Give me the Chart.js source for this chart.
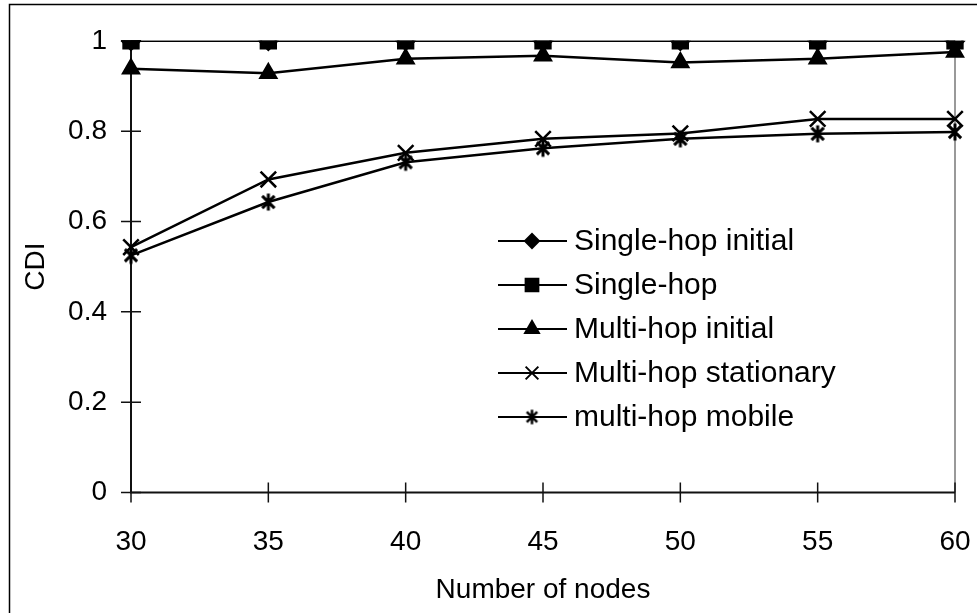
<!DOCTYPE html>
<html>
<head>
<meta charset="utf-8">
<script src="https://cdn.jsdelivr.net/npm/chart.js@4/dist/chart.umd.min.js"></script>
<style>
  html, body { margin: 0; padding: 0; background: #fff; overflow: hidden; }
  #wrap { width: 977px; height: 613px; }
</style>
</head>
<body>
<div id="wrap"><canvas id="cdi-chart"></canvas></div>
<script>
    // values
    var nodes = [30, 35, 40, 45, 50, 55, 60];
    var singleHopInitial = [1, 1, 1, 1, 1, 1, 1];
    var singleHop = [1, 1, 1, 1, 1, 1, 1];
    var multiHopInitial = [0.938, 0.928, 0.96, 0.967, 0.952, 0.96, 0.975];
    var multiHopStationary = [0.543, 0.693, 0.752, 0.783, 0.795, 0.827, 0.827];
    var multiHopMobile = [0.525, 0.643, 0.731, 0.762, 0.783, 0.794, 0.798];
    var seriesNames = ['Single-hop initial', 'Single-hop', 'Multi-hop initial', 'Multi-hop stationary', 'multi-hop mobile'];
    var yTicks = [0, 0.2, 0.4, 0.6, 0.8, 1];

    var FONT = "'Liberation Sans', Arial, sans-serif";

    // excel style star marker: X with a vertical bar
    function makeStar(size, lw) {
        var c = document.createElement('canvas');
        c.width = size; c.height = size;
        var g = c.getContext('2d');
        var h = size / 2, r = size / 2 - lw / 2;
        var d = r * 0.72;
        g.strokeStyle = '#000';
        g.lineWidth = lw;
        g.beginPath();
        g.moveTo(h - d, h - d); g.lineTo(h + d, h + d);
        g.moveTo(h + d, h - d); g.lineTo(h - d, h + d);
        g.moveTo(h, h - r); g.lineTo(h, h + r);
        g.stroke();
        return c;
    }
    var starBig = makeStar(20, 3);
    var starSmall = makeStar(17, 2.5);

    function series(label, values, style, radius, legendStyle, legendRadius) {
        return {
            label: label,
            data: values,
            borderColor: '#000',
            backgroundColor: '#000',
            borderWidth: 2.5,
            pointStyle: style,
            pointRadius: radius,
            pointHoverRadius: radius,
            pointBorderWidth: 2.5,
            pointBackgroundColor: '#000',
            pointBorderColor: '#000',
            tension: 0,
            legendStyle: legendStyle,
            legendRadius: legendRadius
        };
    }

    var frameAndTicks = {
        id: 'frameAndTicks',
        beforeDraw: function(chart) {
            var ctx = chart.ctx;
            ctx.save();
            ctx.fillStyle = '#fff';
            ctx.fillRect(0, 0, chart.width, chart.height);
            ctx.strokeStyle = '#000';
            ctx.lineWidth = 1.5;
            ctx.strokeRect(9.5, 4.5, 2000, 2000);
            ctx.restore();
        },
        beforeDatasetsDraw: function(chart) {
            var ctx = chart.ctx;
            var area = chart.chartArea;
            var xs = chart.scales.x, ys = chart.scales.y;
            ctx.save();
            // grey right edge of the plot area
            ctx.strokeStyle = '#999';
            ctx.lineWidth = 2;
            ctx.beginPath();
            ctx.moveTo(area.right, area.top);
            ctx.lineTo(area.right, area.bottom);
            ctx.stroke();
            // axis lines
            ctx.strokeStyle = '#111';
            ctx.lineWidth = 2;
            ctx.beginPath();
            ctx.moveTo(area.left, area.top);
            ctx.lineTo(area.left, area.bottom);
            ctx.lineTo(area.right, area.bottom);
            ctx.stroke();
            // cross ticks
            ctx.lineWidth = 1.5;
            ctx.beginPath();
            for (var i = 0; i < ys.ticks.length; i++) {
                var py = ys.getPixelForTick(i);
                ctx.moveTo(area.left - 10, py);
                ctx.lineTo(area.left + 10, py);
            }
            for (var j = 0; j < xs.ticks.length; j++) {
                var px = xs.getPixelForTick(j);
                ctx.moveTo(px, area.bottom - 10);
                ctx.lineTo(px, area.bottom + 10);
            }
            ctx.stroke();
            ctx.restore();
        }
    };

    var boxLegend = {
        id: 'boxLegend',
        afterDatasetsDraw: function(chart) {
            var ctx = chart.ctx;
            var opts = chart.options.plugins.boxLegend;
            ctx.save();
            chart.data.datasets.forEach(function(ds, i) {
                var y = opts.top + i * opts.rowGap;
                ctx.strokeStyle = '#000';
                ctx.fillStyle = '#000';
                ctx.lineWidth = 2;
                ctx.beginPath();
                ctx.moveTo(opts.lineFrom, y);
                ctx.lineTo(opts.lineTo, y);
                ctx.stroke();
                Chart.helpers.drawPoint(ctx, {
                    pointStyle: ds.legendStyle,
                    radius: ds.legendRadius,
                    rotation: 0,
                    borderWidth: 2
                }, opts.marker, y);
                ctx.fillStyle = '#000';
                ctx.font = opts.font;
                ctx.textAlign = 'left';
                ctx.textBaseline = 'middle';
                ctx.fillText(ds.label, opts.textX, y + 1);
            });
            ctx.restore();
        }
    };

    var ctx = document.getElementById('cdi-chart').getContext('2d');
    var cdiChart = new Chart(ctx, {
        type: 'line',
        data: {
            labels: nodes,
            datasets: [
                series(seriesNames[0], singleHopInitial, 'rectRot', 9, 'rectRot', 7),
                series(seriesNames[1], singleHop, 'rect', 10.5, 'rect', 9),
                series(seriesNames[2], multiHopInitial, 'triangle', 9, 'triangle', 8),
                series(seriesNames[3], multiHopStationary, 'crossRot', 11, 'crossRot', 9),
                series(seriesNames[4], multiHopMobile, starBig, 10, starSmall, 8)
            ]
        },
        plugins: [frameAndTicks, boxLegend],
        options: {
            responsive: true,
            maintainAspectRatio: false,
            animation: false,
            events: [],
            layout: {
                padding: { top: 40, right: 22, left: 0, bottom: 0 }
            },
            plugins: {
                legend: { display: false },
                tooltip: { enabled: false },
                boxLegend: {
                    top: 241,
                    rowGap: 44,
                    lineFrom: 498,
                    lineTo: 567,
                    marker: 532,
                    textX: 574,
                    font: '30px ' + FONT
                }
            },
            scales: {
                x: {
                    type: 'category',
                    offset: false,
                    grid: { display: false, drawTicks: false },
                    border: { display: false },
                    ticks: {
                        color: '#000',
                        padding: 33,
                        maxRotation: 0,
                        font: { family: FONT, size: 28 }
                    },
                    title: {
                        display: true,
                        text: 'Number of nodes',
                        color: '#000',
                        font: { family: FONT, size: 28 },
                        padding: { top: 0, bottom: 6 }
                    },
                    afterFit: function(scale) {
                        scale.height = 120.5;
                        scale.paddingLeft = 0;
                        scale.paddingRight = 0;
                    }
                },
                y: {
                    min: 0,
                    max: 1,
                    grid: { display: false, drawTicks: false },
                    border: { display: false },
                    afterBuildTicks: function(scale) {
                        scale.ticks = yTicks.map(function(v) { return { value: v }; });
                    },
                    ticks: {
                        color: '#000',
                        padding: 24,
                        font: { family: FONT, size: 28 },
                        callback: function(v) { return String(+v.toFixed(1)); }
                    },
                    title: {
                        display: true,
                        text: 'CDI',
                        color: '#000',
                        font: { family: FONT, size: 28 },
                        padding: { top: 19, bottom: 0 }
                    },
                    afterFit: function(scale) { scale.width = 131; }
                }
            }
        }
    });
</script>
</body>
</html>
